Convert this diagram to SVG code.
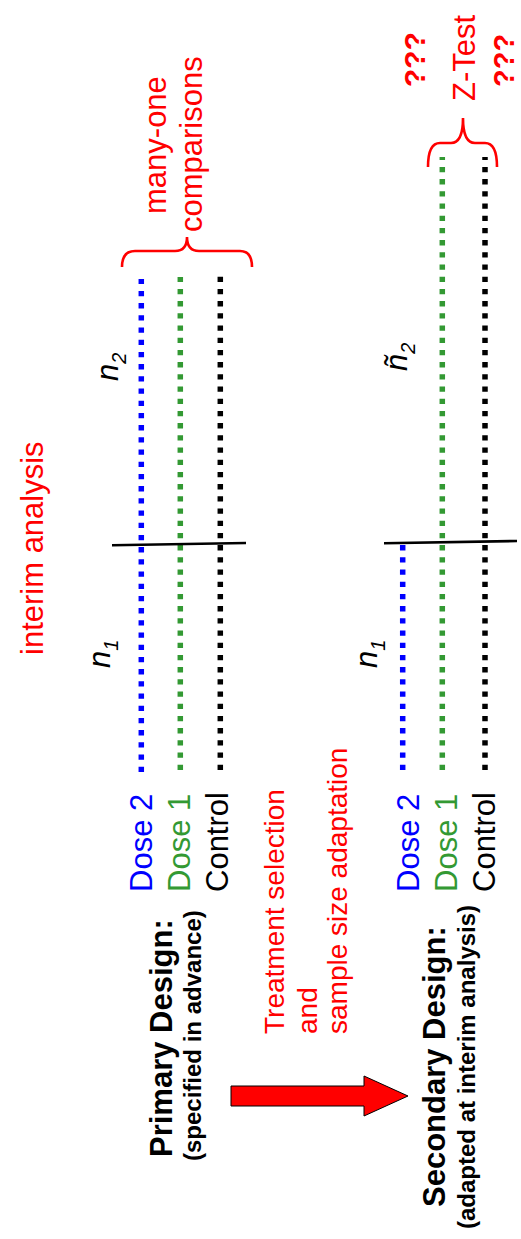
<svg xmlns="http://www.w3.org/2000/svg" width="521" height="1239" viewBox="0 0 521 1239">
<style>
text{font-family:"Liberation Sans",Arial,sans-serif;}
.b{font-weight:bold;}
.red{fill:#ff0000;}
.blue{fill:#0000ff;}
.green{fill:#339933;}
.blk{fill:#000000;}
.it{font-style:italic;}
.dot{stroke-width:5.5;stroke-dasharray:5.3 6.9;fill:none;}
.brace{stroke:#ff0000;stroke-width:2.6;fill:none;}
.interim{stroke:#000;stroke-width:2.6;}
</style>
<rect width="521" height="1239" fill="#ffffff"/>

<g id="primary-title">
<text class="b" font-size="31" transform="translate(172,1157) rotate(-90)">Primary Design:</text>
<text class="b" font-size="24" transform="translate(201,1161) rotate(-90)">(specified in advance)</text>
</g>

<g id="secondary-title">
<text class="b" font-size="31" transform="translate(445,1207) rotate(-90)">Secondary Design:</text>
<text class="b" font-size="24" transform="translate(475,1229) rotate(-90)">(adapted at interim analysis)</text>
</g>

<g id="primary-labels" font-size="31">
<text class="blue" transform="translate(152,892) rotate(-90)">Dose 2</text>
<text class="green" transform="translate(190,892) rotate(-90)">Dose 1</text>
<text class="blk" transform="translate(228,892) rotate(-90)">Control</text>
</g>

<g id="secondary-labels" font-size="31">
<text class="blue" transform="translate(419,892) rotate(-90)">Dose 2</text>
<text class="green" transform="translate(457,892) rotate(-90)">Dose 1</text>
<text class="blk" transform="translate(495,892) rotate(-90)">Control</text>
</g>

<g id="adaptation-note" class="red" font-size="28">
<text transform="translate(284,1034) rotate(-90)">Treatment selection</text>
<text transform="translate(317,1034) rotate(-90)">and</text>
<text transform="translate(347,1034) rotate(-90)">sample size adaptation</text>
</g>

<g id="interim-label">
<text class="red" font-size="31" transform="translate(43,655) rotate(-90)">interim analysis</text>
</g>

<g id="sample-size-labels" font-size="31" class="it">
<text transform="translate(110,668) rotate(-90)">n<tspan font-size="20" dy="8">1</tspan></text>
<text transform="translate(118,381) rotate(-90)">n<tspan font-size="20" dy="8">2</tspan></text>
<text transform="translate(377,668) rotate(-90)">n<tspan font-size="20" dy="8">1</tspan></text>
<text transform="translate(407,371) rotate(-90)">ñ<tspan font-size="20" dy="8">2</tspan></text>
</g>

<g id="primary-arms">
<path class="dot" stroke="#0000ff" d="M141.3,772 V279"/>
<path class="dot" stroke="#339933" d="M180.3,770 V277"/>
<path class="dot" stroke="#000000" d="M220.3,770 V276"/>
</g>

<g id="secondary-arms">
<path class="dot" stroke="#0000ff" d="M402.7,770 V545"/>
<path class="dot" stroke="#339933" d="M442.3,770 V157"/>
<path class="dot" stroke="#000000" d="M485,770 V157"/>
</g>

<g id="interim-markers">
<line class="interim" x1="112" y1="545.3" x2="246" y2="543"/>
<line class="interim" x1="384" y1="543.3" x2="517" y2="541"/>
</g>

<g id="many-one">
<path class="brace" d="M122,267 Q122,251 135,251 L175,251 Q187,251 187,237 Q187,251 199,251 L240,251 Q252,251 252,267"/>
<text class="red" font-size="31" transform="translate(166,214) rotate(-90)">many-one</text>
<text class="red" font-size="31" transform="translate(202,232) rotate(-90)">comparisons</text>
</g>

<g id="z-test">
<path class="brace" d="M428,167 Q428,143 440,143 L451,143 Q463,143 463,118 Q463,143 475,143 L485,143 Q497,143 497,167"/>
<text class="red" font-size="31" transform="translate(475,101) rotate(-90)">Z-Test</text>
<text class="red b" font-size="30" transform="translate(425,87) rotate(-90)">???</text>
<text class="red b" font-size="29" transform="translate(514,87) rotate(-90)">???</text>
</g>

<g id="connectors">
<path d="M231,1086 H364 V1076 L408,1096 L364,1116 V1106 H231 Z" fill="#ff0000" stroke="#000000" stroke-width="1"/>
</g>
</svg>
